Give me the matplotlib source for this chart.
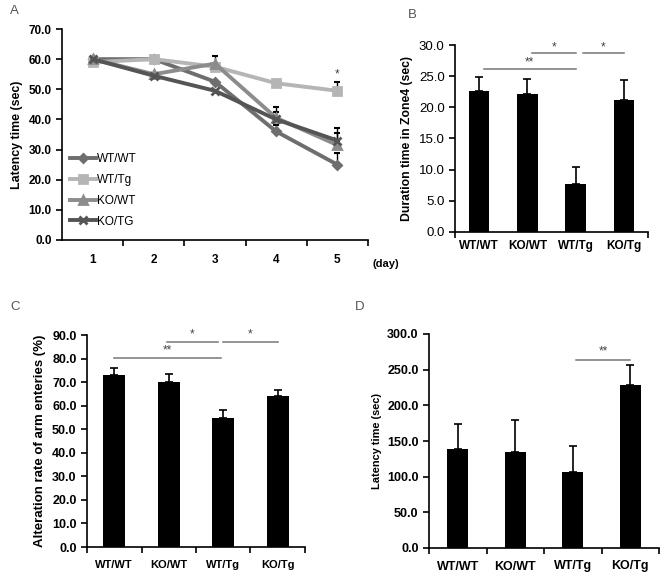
import numpy as np
import matplotlib
matplotlib.use('Agg')
import matplotlib.pyplot as plt

plt.rcParams['font.family'] = ['Liberation Sans', 'DejaVu Sans']

# panel A - latency per day
days = [1, 2, 3, 4, 5]
wt_wt = [60, 60, 52.5, 36, 25]
wt_tg = [59, 60, 57.5, 52, 49.5]
ko_wt = [60, 55, 58.5, 40.5, 31.5]
ko_tg = [60, 54.5, 49.5, 40, 33]
wt_wt_err = [0, 0, 0, 2.2, 4]
wt_tg_err = [0, 0, 0, 1, 3]
ko_wt_err = [0, 0, 2.5, 3.5, 4]
ko_tg_err = [0, 0, 0, 2.5, 4]

# bar panels
groups = ['WT/WT', 'KO/WT', 'WT/Tg', 'KO/Tg']
zone4 = [22.6, 22.2, 7.7, 21.1]
zone4_err = [2.3, 2.4, 2.8, 3.3]
alter = [73.0, 70.2, 54.9, 64.2]
alter_err = [3.1, 3.2, 3.3, 2.4]
latency = [139, 134, 106, 228]
latency_err = [35, 46, 37, 28]

W, H = 664, 578


def px(l, t, r, b):
    return [l / W, 1 - b / H, (r - l) / W, (b - t) / H]


def style(ax):
    ax.spines['top'].set_visible(False)
    ax.spines['right'].set_visible(False)
    for s in ['left', 'bottom']:
        ax.spines[s].set_linewidth(1.2)
    ax.tick_params(direction='out', length=4, width=1.2)


def sig(ax, x0, x1, y, txt, ty):
    ax.plot([x0, x1], [y, y], color='#777777', lw=1.1, clip_on=False)
    ax.text((x0 + x1) / 2, ty, txt, ha='center', va='center', fontsize=8.5,
            color='#444444', clip_on=False)


fig = plt.figure(figsize=(W / 100, H / 100), dpi=100)

# ---------------- A
ax = fig.add_axes(px(62, 29, 368, 240))
style(ax)
series = [
    ('WT/WT', wt_wt, wt_wt_err, '#6e6e6e', 'D', 4.5),
    ('WT/Tg', wt_tg, wt_tg_err, '#b5b5b5', 's', 6),
    ('KO/WT', ko_wt, ko_wt_err, '#8c8c8c', '^', 6),
    ('KO/TG', ko_tg, ko_tg_err, '#555555', 'x', 6),
]
for name, vals, err, col, mk, ms in series:
    ax.errorbar(days, vals, yerr=[np.zeros(5), err], fmt='none', ecolor='black',
                elinewidth=1, capsize=2.5, capthick=1.5, zorder=1)
    ax.plot(days, vals, color=col, lw=2.8, marker=mk, ms=ms, mew=2,
            mfc=col, mec=col, label=name, zorder=2)
ax.text(5, 55, '*', ha='center', va='center', fontsize=8.5, color='#444444')
ax.set_xlim(0.5, 5.5)
ax.set_ylim(0, 70)
ax.set_yticks(np.arange(0, 71, 10))
ax.set_yticklabels(['%.1f' % v for v in np.arange(0, 71, 10)], fontsize=8.5, fontweight='bold')
ax.set_xticks([1.5, 2.5, 3.5, 4.5, 5.5])
ax.set_xticklabels([])
ax.set_xticks(days, minor=True)
ax.set_xticklabels([str(d) for d in days], minor=True, fontsize=8.5, fontweight='bold')
ax.tick_params(axis='x', which='minor', length=0, pad=10)
ax.set_ylabel('Latency time (sec)', fontsize=8.9, fontweight='bold', labelpad=4)
ax.text(1.015, -0.115, '(day)', transform=ax.transAxes, fontsize=8,
        fontweight='bold', va='center', ha='left')
ax.legend(loc='lower left', bbox_to_anchor=(0.0, 0.02), frameon=False, fontsize=8.5,
          handlelength=2.2, handletextpad=0.1, labelspacing=0.75, borderaxespad=0.3)
fig.text(10 / W, 1 - 11 / H, 'A', fontsize=9.5, color='#555555', va='center')

x = np.arange(4)

# ---------------- B
ax = fig.add_axes(px(455, 45, 648, 232))
style(ax)
ax.bar(x, zone4, width=0.42, color='black')
ax.errorbar(x, zone4, yerr=[np.zeros(4), zone4_err], fmt='none', ecolor='black',
            elinewidth=1.2, capsize=3, capthick=1.2)
ax.set_xlim(-0.5, 3.5)
ax.set_ylim(0, 30)
ax.set_yticks(np.arange(0, 31, 5))
ax.set_yticklabels(['%.1f' % v for v in np.arange(0, 31, 5)], fontsize=9.5)
ax.set_xticks([-0.5, 3.5])
ax.set_xticklabels([])
ax.set_xticks(x, minor=True)
ax.set_xticklabels(groups, minor=True, fontsize=8.5, fontweight='bold')
ax.tick_params(axis='x', which='minor', length=0, pad=6)
ax.set_ylabel('Duration time in Zone4 (sec)', fontsize=8.8, fontweight='bold', labelpad=4)
sig(ax, 0.1, 2.0, 26.2, '**', 27.2)
sig(ax, 1.1, 2.0, 28.7, '*', 29.6)
sig(ax, 2.15, 3.0, 28.7, '*', 29.6)
fig.text(408 / W, 1 - 15 / H, 'B', fontsize=9.5, color='#555555', va='center')

# ---------------- C
ax = fig.add_axes(px(87, 335, 305, 547))
style(ax)
ax.bar(x, alter, width=0.4, color='black')
ax.errorbar(x, alter, yerr=[np.zeros(4), alter_err], fmt='none', ecolor='black',
            elinewidth=1.2, capsize=3, capthick=1.2)
ax.set_xlim(-0.5, 3.5)
ax.set_ylim(0, 90)
ax.set_yticks(np.arange(0, 91, 10))
ax.set_yticklabels(['%.1f' % v for v in np.arange(0, 91, 10)], fontsize=9, fontweight='bold')
ax.set_xticks([-0.5, 0.5, 1.5, 2.5, 3.5])
ax.set_xticklabels([])
ax.set_xticks(x, minor=True)
ax.set_xticklabels(groups, minor=True, fontsize=8, fontweight='bold')
ax.tick_params(axis='x', which='minor', length=0, pad=9)
ax.set_ylabel('Alteration rate of arm enteries (%)', fontsize=9.5, fontweight='bold', labelpad=4)
sig(ax, 0.0, 1.95, 80.1, '**', 83.5)
sig(ax, 0.97, 1.9, 87.1, '*', 90.3)
sig(ax, 2.0, 3.0, 87.1, '*', 90.3)
fig.text(10 / W, 1 - 307 / H, 'C', fontsize=9.5, color='#555555', va='center')

# ---------------- D
ax = fig.add_axes(px(429, 334, 659, 548))
style(ax)
ax.bar(x, latency, width=0.36, color='black')
ax.errorbar(x, latency, yerr=[np.zeros(4), latency_err], fmt='none', ecolor='black',
            elinewidth=1.2, capsize=3, capthick=1.2)
ax.set_xlim(-0.5, 3.5)
ax.set_ylim(0, 300)
ax.set_yticks(np.arange(0, 301, 50))
ax.set_yticklabels(['%.1f' % v for v in np.arange(0, 301, 50)], fontsize=9, fontweight='bold')
ax.set_xticks([-0.5, 0.5, 1.5, 2.5, 3.5])
ax.set_xticklabels([])
ax.set_xticks(x, minor=True)
ax.set_xticklabels(groups, minor=True, fontsize=9, fontweight='bold')
ax.tick_params(axis='x', which='minor', length=0, pad=9)
ax.set_ylabel('Latency time (sec)', fontsize=7.9, fontweight='bold', labelpad=4)
sig(ax, 2.05, 3.0, 263.7, '**', 276)
fig.text(355 / W, 1 - 307 / H, 'D', fontsize=9.5, color='#555555', va='center')

fig.savefig('out.png', dpi=100)
